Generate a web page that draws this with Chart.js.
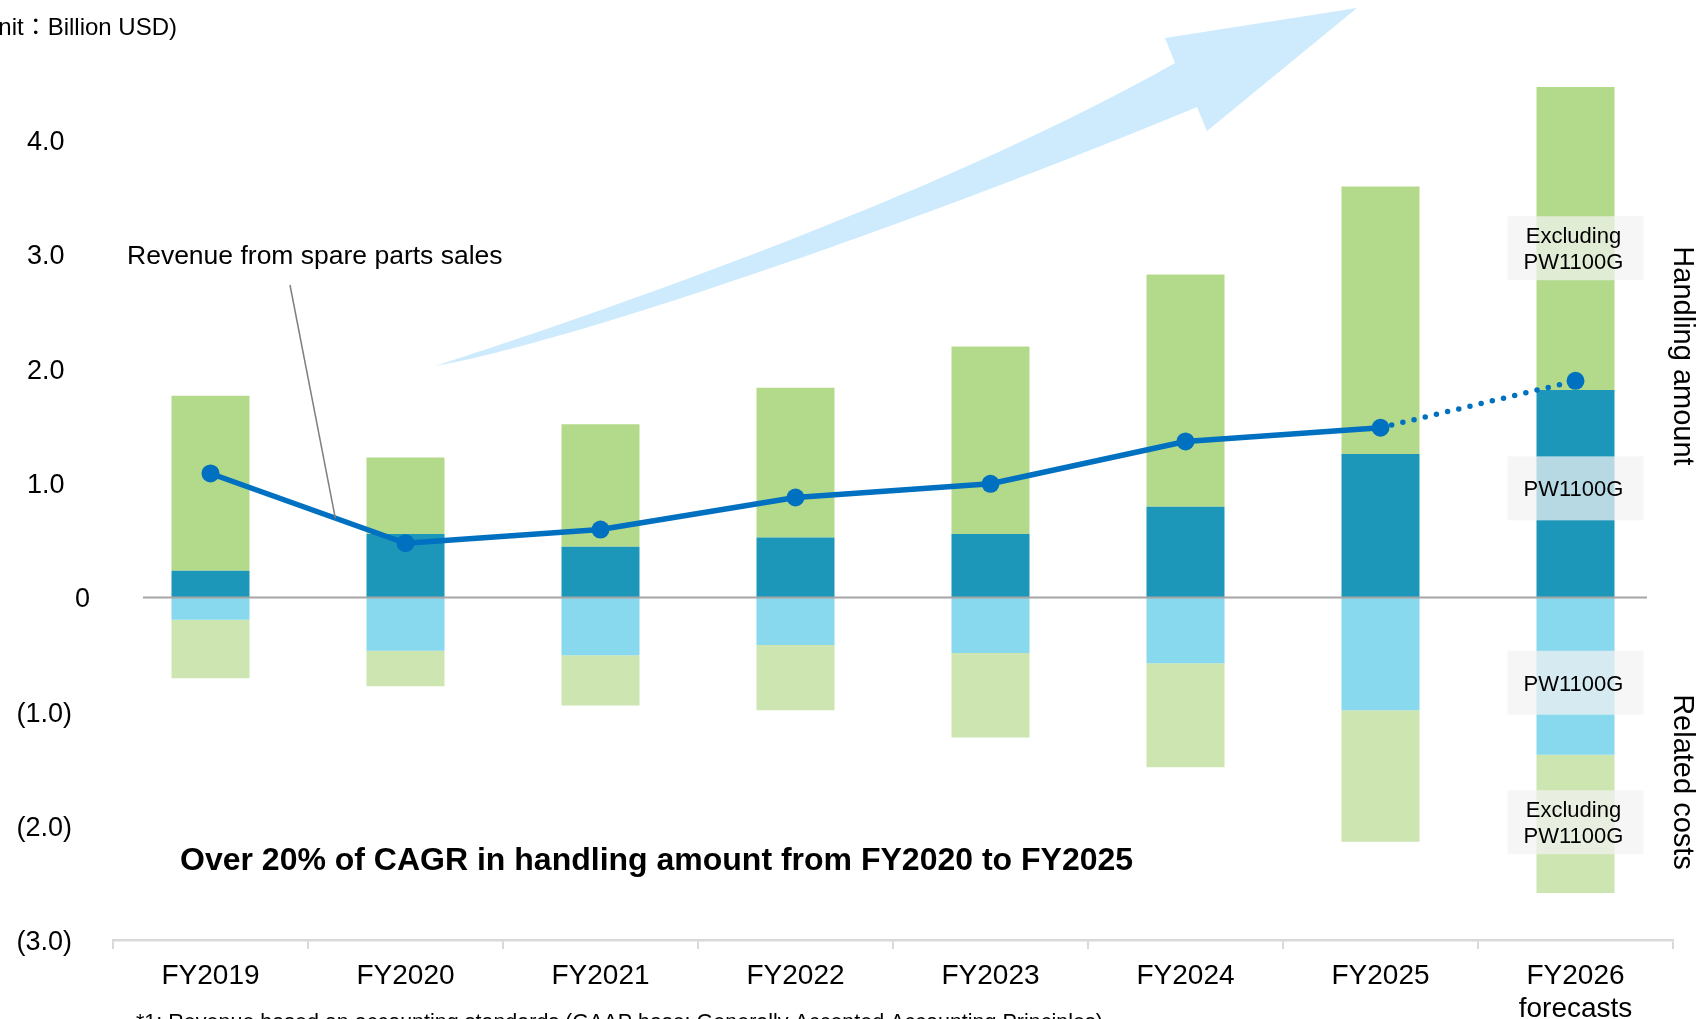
<!DOCTYPE html>
<html>
<head>
<meta charset="utf-8">
<script src="https://cdn.jsdelivr.net/npm/chart.js@4/dist/chart.umd.min.js"></script>
<style>
  html, body { margin: 0; padding: 0; background: #fff; overflow: hidden; }
  #wrap { width: 1707px; height: 1019px; position: relative; }
</style>
</head>
<body>
<div id="wrap"><canvas id="c"></canvas></div>
<script>
const categories = ['FY2019', 'FY2020', 'FY2021', 'FY2022', 'FY2023', 'FY2024', 'FY2025', ['FY2026', 'forecasts']];
const revenuePW1100G = [0.23, 0.55, 0.44, 0.52, 0.55, 0.79, 1.25, 1.81];
const revenueExclPW1100G = [1.53, 0.67, 1.07, 1.31, 1.64, 2.03, 2.34, 2.65];
const costsPW1100G = [-0.20, -0.47, -0.51, -0.42, -0.49, -0.58, -0.99, -1.38];
const costsExclPW1100G = [-0.51, -0.31, -0.44, -0.57, -0.74, -0.91, -1.15, -1.21];
const sparePartsRevenue = [1.08, 0.47, 0.59, 0.87, 0.99, 1.36, 1.48, 1.89];
const yTickValues = [4, 3, 2, 1, 0, -1, -2, -3];
const yTickLabels = ['4.0', '3.0', '2.0', '1.0', '0', '(1.0)', '(2.0)', '(3.0)'];

const FONT = "'Liberation Sans', Arial, Helvetica, sans-serif";
Chart.defaults.font.family = FONT;
Chart.defaults.color = '#000';

const boxNotes = [
  { value: 3.05, lines: ['Excluding', 'PW1100G'] },
  { value: 0.95, lines: ['PW1100G'] },
  { value: -0.75, lines: ['PW1100G'] },
  { value: -1.97, lines: ['Excluding', 'PW1100G'] }
];

const decor = {
  id: 'decor',
  beforeDatasetsDraw(chart) {
    const ctx = chart.ctx;
    // big growth arrow
    ctx.save();
    ctx.fillStyle = '#CDEBFD';
    ctx.beginPath();
    ctx.moveTo(435, 366);
    ctx.bezierCurveTo(640, 300, 960, 185, 1175, 63);
    ctx.lineTo(1165, 38);
    ctx.lineTo(1357, 8);
    ctx.lineTo(1207, 131);
    ctx.lineTo(1197, 107);
    ctx.bezierCurveTo(900, 230, 560, 345, 435, 366);
    ctx.closePath();
    ctx.fill();
    ctx.restore();
  },
  afterDatasetsDraw(chart) {
    const ctx = chart.ctx;
    const y = chart.scales.y;
    const x = chart.scales.x;
    const area = chart.chartArea;
    // zero line
    ctx.save();
    ctx.strokeStyle = '#A6A6A6';
    ctx.lineWidth = 2;
    const y0 = Math.round(y.getPixelForValue(0)) + 0.5;
    ctx.beginPath();
    ctx.moveTo(area.left + 30, y0);
    ctx.lineTo(area.right - 26, y0);
    ctx.stroke();
    // note boxes on the forecast bar
    const cx = x.getPixelForValue(categories.length - 1);
    ctx.font = '22px ' + FONT;
    ctx.textAlign = 'center';
    ctx.textBaseline = 'middle';
    boxNotes.forEach(b => {
      const cy = y.getPixelForValue(b.value);
      ctx.fillStyle = 'rgba(242,242,242,0.72)';
      ctx.fillRect(cx - 68, cy - 32, 136, 64);
      ctx.fillStyle = '#000';
      const n = b.lines.length;
      b.lines.forEach((t, i) => {
        ctx.fillText(t, cx - 2, cy + 2 + (i - (n - 1) / 2) * 26);
      });
    });
    ctx.restore();
  },
  afterDraw(chart) {
    const ctx = chart.ctx;
    const y = chart.scales.y;
    ctx.save();
    ctx.fillStyle = '#000';
    // y tick labels
    ctx.font = '27px ' + FONT;
    ctx.textBaseline = 'middle';
    yTickValues.forEach((v, i) => {
      const py = y.getPixelForValue(v) + 3;
      if (v === 0) {
        ctx.textAlign = 'left';
        ctx.fillText(yTickLabels[i], 75, py);
      } else {
        ctx.textAlign = 'right';
        ctx.fillText(v > 0 ? yTickLabels[i] + ' ' : yTickLabels[i], 72, py);
      }
    });
    // unit label (clipped at left edge)
    ctx.font = "24px 'Liberation Sans', Arial, 'Noto Sans CJK JP', sans-serif";
    ctx.textAlign = 'right';
    ctx.fillText('(Unit\uFF1ABillion USD)', 177, 28);
    // line label + leader
    ctx.font = '26.5px ' + FONT;
    ctx.textAlign = 'left';
    ctx.fillText('Revenue from spare parts sales', 127, 257);
    const pts = chart.getDatasetMeta(4).data;
    const t = 0.64;
    const ex = pts[0].x + (pts[1].x - pts[0].x) * t;
    const ey = pts[0].y + (pts[1].y - pts[0].y) * t;
    ctx.strokeStyle = '#7F7F7F';
    ctx.lineWidth = 1.5;
    ctx.beginPath();
    ctx.moveTo(290, 285);
    ctx.lineTo(ex, ey);
    ctx.stroke();
    // CAGR headline
    ctx.font = 'bold 32px ' + FONT;
    ctx.fillText('Over 20% of CAGR in handling amount from FY2020 to FY2025', 180, 861);
    // footnote (cut at the bottom)
    ctx.font = '21.5px ' + FONT;
    ctx.textBaseline = 'top';
    ctx.fillText('*1: Revenue based on accounting standards (GAAP base: Generally Accepted Accounting Principles)', 136, 1012);
    // rotated side titles
    ctx.font = '29px ' + FONT;
    ctx.textAlign = 'center';
    ctx.textBaseline = 'middle';
    [['Handling amount', 356], ['Related costs', 782]].forEach(([txt, cy]) => {
      ctx.save();
      ctx.translate(1682, cy);
      ctx.rotate(Math.PI / 2);
      ctx.fillText(txt, 0, 0);
      ctx.restore();
    });
    ctx.restore();
  }
};

new Chart(document.getElementById('c'), {
  data: {
    labels: categories,
    datasets: [
      { type: 'bar', label: 'PW1100G (handling amount)', data: revenuePW1100G, backgroundColor: '#1C97BA', stack: 'bars', order: 1 },
      { type: 'bar', label: 'Excluding PW1100G (handling amount)', data: revenueExclPW1100G, backgroundColor: '#B3D98A', stack: 'bars', order: 1 },
      { type: 'bar', label: 'PW1100G (related costs)', data: costsPW1100G, backgroundColor: '#88D8EE', stack: 'bars', order: 1 },
      { type: 'bar', label: 'Excluding PW1100G (related costs)', data: costsExclPW1100G, backgroundColor: '#CDE5B1', stack: 'bars', order: 1 },
      {
        type: 'line', label: 'Revenue from spare parts sales', data: sparePartsRevenue,
        borderColor: '#0070C0', backgroundColor: '#0070C0', borderWidth: 5.5,
        borderCapStyle: 'round', borderJoinStyle: 'round',
        pointRadius: 9, pointBorderWidth: 0, pointBackgroundColor: '#0070C0',
        stack: 'line', order: 0, tension: 0,
        segment: {
          borderDash: c => c.p1DataIndex === categories.length - 1 ? [0, 11.5] : undefined,
          borderWidth: c => c.p1DataIndex === categories.length - 1 ? 5.5 : 5.5
        }
      }
    ]
  },
  options: {
    responsive: true,
    maintainAspectRatio: false,
    animation: false,
    layout: { padding: { left: 0, right: 34, top: 71, bottom: 0 } },
    plugins: { legend: { display: false }, tooltip: { enabled: false } },
    datasets: { bar: { barPercentage: 0.4, categoryPercentage: 1, borderWidth: 0 } },
    scales: {
      x: {
        stacked: true,
        grid: { display: true, offset: true, drawOnChartArea: false, color: '#D9D9D9', lineWidth: 2, tickLength: 9 },
        border: { display: true, color: '#D9D9D9', width: 2.5 },
        ticks: { font: { size: 28, family: FONT }, color: '#000', padding: 10, maxRotation: 0, autoSkip: false },
        afterFit(s) { s.height = 79; }
      },
      y: {
        stacked: true,
        min: -3, max: 4.6,
        grid: { display: false },
        border: { display: false },
        ticks: { display: false },
        afterFit(s) { s.width = 113; }
      }
    }
  },
  plugins: [decor]
});
</script>
</body>
</html>
